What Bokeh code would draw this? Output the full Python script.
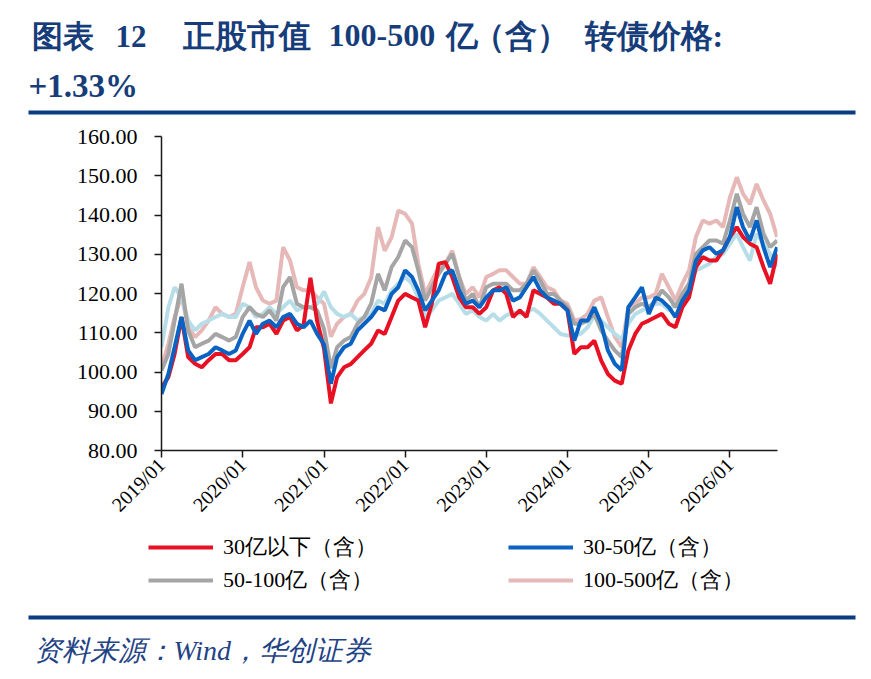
import math
from datetime import datetime
import pandas as pd
from bokeh.plotting import figure
from bokeh.layouts import column, row
from bokeh.models import (Range1d, FixedTicker, PrintfTickFormatter, DatetimeTickFormatter,
                          Label, BoxAnnotation, Legend, LegendItem, ColumnDataSource)
from bokeh.embed import file_html
from bokeh.resources import INLINE

# ---------------- data (month-start readings) ----------------
dates = pd.date_range("2019-01-01", "2026-08-01", freq="MS")

s_30_below = [  # 30亿以下（含）
    96.1, 98.7, 104.6, 114.0, 103.8, 102.1, 101.2, 103.0, 104.6, 104.6, 103.0, 103.0,
    104.6, 106.3, 111.4, 111.4, 112.3, 109.7, 113.1, 114.0, 110.6, 112.0, 124.0, 113.0,
    106.0, 92.0, 98.7, 101.2, 102.0, 103.8, 105.5, 107.2, 110.6, 109.7, 114.0, 118.2,
    119.9, 119.0, 118.2, 111.4, 117.4, 127.6, 128.0, 124.2, 119.0, 116.5, 116.5, 114.8,
    116.5, 120.8, 121.6, 119.9, 114.0, 115.7, 114.0, 120.8, 119.9, 119.0, 117.4, 117.4,
    115.7, 104.6, 106.3, 106.3, 108.0, 102.9, 99.5, 97.8, 97.0, 105.5, 109.7, 112.3,
    113.1, 114.0, 114.8, 112.3, 111.4, 116.5, 119.0, 126.7, 129.3, 128.4, 128.4, 131.0,
    134.4, 136.9, 134.4, 132.7, 131.8, 126.7, 122.5, 130.1,
]
s_30_50 = [  # 30-50亿（含）
    94.4, 99.5, 106.3, 114.0, 105.5, 103.0, 103.8, 104.6, 106.3, 105.5, 104.6, 105.5,
    109.7, 113.1, 109.7, 112.3, 113.1, 111.4, 114.0, 114.8, 112.3, 111.4, 113.1, 109.7,
    107.0, 97.0, 103.8, 106.3, 107.2, 110.6, 112.3, 114.0, 116.5, 115.7, 119.9, 121.6,
    125.9, 124.2, 120.8, 115.7, 118.2, 120.8, 125.0, 125.9, 120.8, 117.4, 118.2, 116.5,
    119.0, 120.8, 120.8, 121.6, 118.2, 119.0, 121.6, 124.2, 120.8, 119.0, 118.2, 117.4,
    115.7, 108.0, 113.1, 113.1, 116.5, 112.3, 105.5, 102.1, 100.4, 116.5, 119.0, 121.6,
    114.8, 119.0, 118.2, 116.5, 114.0, 118.2, 120.8, 128.4, 131.0, 131.8, 130.1, 131.0,
    134.4, 142.0, 136.9, 133.5, 138.6, 131.8, 126.7, 131.8,
]
s_50_100 = [  # 50-100亿（含）
    100.4, 104.6, 113.1, 122.5, 110.6, 106.3, 107.2, 108.0, 109.7, 108.9, 108.0, 108.9,
    114.0, 116.5, 114.8, 114.0, 115.7, 113.1, 121.6, 124.2, 117.4, 116.5, 116.5, 115.7,
    111.0, 101.0, 106.3, 108.0, 108.9, 112.3, 114.0, 117.4, 125.0, 120.8, 126.7, 129.3,
    133.5, 131.8, 125.9, 118.2, 121.6, 125.0, 127.6, 130.1, 124.2, 118.2, 119.9, 116.5,
    121.6, 122.5, 122.5, 122.5, 120.8, 120.8, 122.5, 125.9, 123.3, 119.9, 119.9, 118.2,
    116.5, 112.3, 112.3, 113.1, 114.8, 110.6, 108.0, 105.5, 103.8, 114.8, 116.5, 117.4,
    116.5, 118.2, 120.8, 119.0, 116.5, 119.9, 122.5, 130.1, 131.8, 133.5, 133.5, 132.7,
    138.6, 145.4, 140.3, 136.9, 142.0, 135.2, 131.8, 133.5,
]
s_100_500 = [  # 100-500亿（含）
    101.2, 107.2, 114.0, 119.5, 111.4, 108.9, 110.6, 113.1, 116.5, 114.8, 114.0, 114.8,
    121.6, 128.0, 121.6, 118.2, 117.4, 118.2, 131.8, 128.4, 121.6, 120.8, 120.8, 119.0,
    117.4, 109.0, 112.3, 114.0, 114.8, 118.2, 119.9, 124.0, 136.9, 130.9, 134.3, 141.1,
    140.3, 137.8, 127.6, 119.9, 123.3, 126.7, 127.6, 130.9, 124.2, 119.9, 121.6, 119.0,
    124.2, 125.0, 125.9, 125.9, 124.2, 122.5, 122.5, 126.7, 124.2, 121.6, 120.8, 118.2,
    117.4, 113.1, 113.5, 114.8, 118.2, 119.0, 114.0, 109.0, 106.3, 116.5, 117.4, 119.0,
    119.0, 119.9, 125.0, 121.6, 118.2, 122.5, 125.9, 134.4, 138.6, 137.8, 138.6, 136.9,
    144.5, 149.6, 145.4, 142.8, 147.9, 143.7, 140.3, 134.4,
]
s_other = [  # fifth (unlabelled) series, light blue
    106.3, 116.5, 121.6, 119.0, 113.1, 110.6, 112.3, 113.1, 114.0, 114.8, 114.0, 114.0,
    117.4, 116.5, 114.0, 114.8, 116.5, 114.8, 116.5, 118.2, 115.7, 116.5, 116.5, 117.4,
    120.5, 116.5, 114.8, 114.0, 114.8, 113.1, 114.0, 114.8, 118.2, 117.4, 120.8, 122.5,
    124.2, 122.5, 119.0, 114.0, 115.7, 118.2, 119.0, 119.9, 117.4, 114.8, 115.7, 114.0,
    113.1, 114.8, 113.1, 114.4, 115.2, 114.8, 115.2, 116.1, 114.8, 113.1, 111.4, 109.7,
    109.3, 109.3, 109.7, 111.4, 114.4, 113.1, 111.4, 109.7, 108.4, 112.3, 114.8, 115.7,
    116.5, 117.4, 117.4, 115.7, 117.4, 119.0, 121.6, 125.9, 126.7, 127.6, 129.3, 130.1,
    132.7, 135.2, 131.8, 128.4, 135.2, 132.7, 130.1, 126.7,
]

legend_labels = ["30亿以下（含）", "30-50亿（含）", "50-100亿（含）", "100-500亿（含）"]
year_ticks = [datetime(y, 1, 1) for y in range(2019, 2027)]
y_ticks = [80, 90, 100, 110, 120, 130, 140, 150, 160]

COLORS = dict(red="#E81123", blue="#0A63C2", gray="#A5A5A5", pink="#E6B9B8", lb="#B7DEE8")
LW = 4
W = 863
TITLE_C = "#163D7A"
RULE_C = "#0A3C80"


def blank(y0, y1):
    f = figure(width=W, height=y1 - y0, x_range=Range1d(0, W), y_range=Range1d(y1, y0),
               min_border=0, x_axis_location=None, y_axis_location=None,
               output_backend="svg", toolbar_location=None, title=None)
    f.outline_line_color = None
    f.xgrid.visible = False
    f.ygrid.visible = False
    f.background_fill_color = "white"
    f.border_fill_color = "white"
    return f


def lab(f, text, x, base, size, style="bold", color=TITLE_C, font="Liberation Serif"):
    # the svg backend draws "alphabetic" text ~0.33em low; compensate
    f.add_layout(Label(x=x, y=base - 0.33 * size, text=text, text_font=font,
                       text_font_size=f"{size}px", text_font_style=style, text_color=color,
                       text_baseline="alphabetic", text_align="left"))


# ---------------- header (page y 0..118) ----------------
head = blank(0, 118)
TB = 46
lab(head, "图表", 31, TB, 31)
lab(head, "12", 115, TB, 31)
lab(head, "正股市值", 182, TB, 32)
lab(head, "100-500", 328, TB, 32)
lab(head, "亿", 445, TB, 32)
lab(head, "（含）", 472, TB, 32)
lab(head, "转债价格:", 584, TB, 32)
lab(head, "+1.33%", 28, 96, 33)
head.add_layout(BoxAnnotation(left=28, right=855, top=110, bottom=114,
                              fill_color=RULE_C, fill_alpha=1, line_alpha=0))

# ---------------- main chart (page y 118..530) ----------------
p = figure(frame_width=616, frame_height=314,
           min_border_left=161, min_border_right=W - 161 - 616, min_border_top=18, min_border_bottom=80,
           x_axis_type="datetime",
           x_range=Range1d(datetime(2019, 1, 1), datetime(2026, 8, 3)),
           y_range=Range1d(80, 160),
           output_backend="svg", toolbar_location=None, title=None)
p.background_fill_color = "white"
p.border_fill_color = "white"
p.outline_line_color = None
p.xgrid.grid_line_color = None
p.ygrid.grid_line_color = None

src = ColumnDataSource(dict(d=dates, a=s_30_below, b=s_30_50, c=s_50_100, e=s_100_500, f=s_other))
p.line("d", "e", source=src, line_color=COLORS["pink"], line_width=LW)
p.line("d", "f", source=src, line_color=COLORS["lb"], line_width=LW)
p.line("d", "c", source=src, line_color=COLORS["gray"], line_width=LW)
p.line("d", "a", source=src, line_color=COLORS["red"], line_width=LW)
p.line("d", "b", source=src, line_color=COLORS["blue"], line_width=LW)

axis_font = "Liberation Serif"
for ax in (p.xaxis[0], p.yaxis[0]):
    ax.axis_line_color = "#1a1a1a"
    ax.axis_line_width = 1.5
    ax.major_tick_line_color = "#1a1a1a"
    ax.major_tick_line_width = 1.5
    ax.major_tick_in = 0
    ax.major_tick_out = 7
    ax.minor_tick_line_color = None
    ax.major_label_text_font = axis_font
    ax.major_label_text_color = "#000000"

p.yaxis.ticker = FixedTicker(ticks=y_ticks)
p.yaxis.formatter = PrintfTickFormatter(format="%.2f")
p.yaxis.major_label_text_font_size = "22px"
p.yaxis.major_label_standoff = 17

p.xaxis.ticker = FixedTicker(ticks=[pd.Timestamp(t).value // 10**6 for t in year_ticks])
fmt = "%Y/%m"
p.xaxis.formatter = DatetimeTickFormatter(years=fmt, months=fmt, days=fmt, hours=fmt,
                                          hourmin=fmt, minutes=fmt, minsec=fmt, seconds=fmt,
                                          milliseconds=fmt, microseconds=fmt)
p.xaxis.major_label_orientation = math.pi / 4
p.xaxis.major_label_text_font_size = "20px"
p.xaxis.major_label_standoff = 4

# ---------------- legend + source (page y 530..677) ----------------
Y0, Y1 = 530, 677
low = blank(Y0, Y1)
swatch = {}
nan = float("nan")
for key in ("red", "blue", "gray", "pink"):
    swatch[key] = low.line(x=[nan], y=[nan], line_color=COLORS[key], line_width=LW)


def mk_legend(items, x_page, bottom_page):
    lg = Legend(items=items, location=(x_page, Y1 - bottom_page), orientation="vertical",
                glyph_width=65, glyph_height=20, label_height=20, spacing=3,
                label_standoff=10, padding=0, margin=0,
                border_line_alpha=0, background_fill_alpha=0,
                label_text_font=axis_font, label_text_font_size="22px",
                label_text_color="#000000")
    low.add_layout(lg, "center")


mk_legend([LegendItem(label=legend_labels[0], renderers=[swatch["red"]]),
           LegendItem(label=legend_labels[2], renderers=[swatch["gray"]])], 148, 595)
mk_legend([LegendItem(label=legend_labels[1], renderers=[swatch["blue"]]),
           LegendItem(label=legend_labels[3], renderers=[swatch["pink"]])], 508, 595)

low.add_layout(BoxAnnotation(left=28, right=855, top=615, bottom=619,
                             fill_color=RULE_C, fill_alpha=1, line_alpha=0))
lab(low, "资料来源：Wind，华创证券", 33, 659, 28, style="italic", color="#1F4385")

page = column(row(head), p, row(low), spacing=0)
open("out.html", "w").write(file_html(page, INLINE))
